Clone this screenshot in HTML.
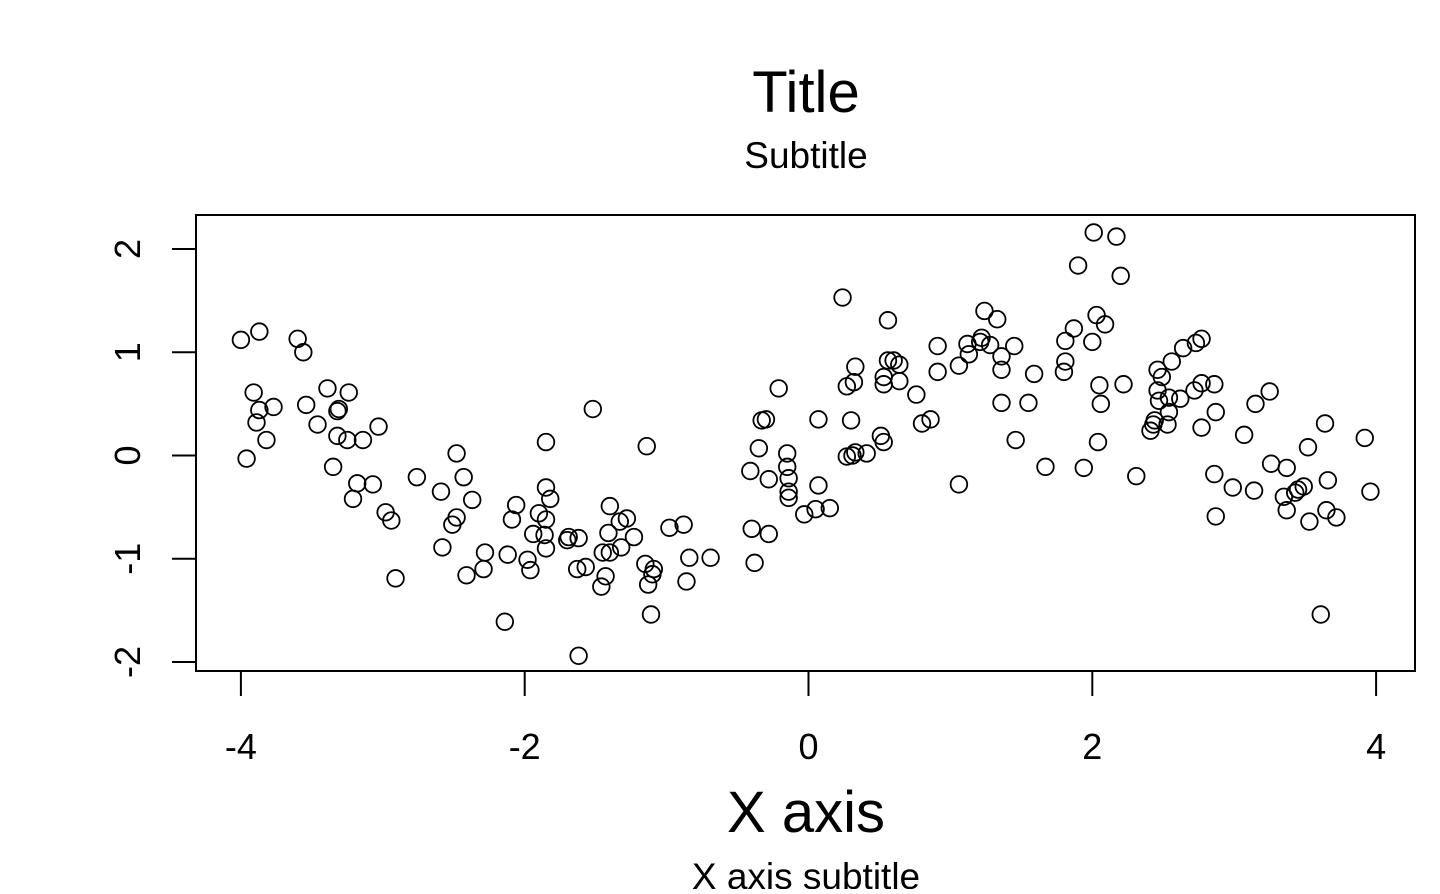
<!DOCTYPE html>
<html><head><meta charset="utf-8"><style>
html,body{margin:0;padding:0;background:#fff;}
svg text{font-family:"Liberation Sans",Arial,sans-serif;fill:#000;}
</style></head><body>
<svg id="chart" width="1440" height="889" xmlns="http://www.w3.org/2000/svg">
<text x="806" y="112" font-size="58" text-anchor="middle">Title</text>
<text x="806" y="168" font-size="37" text-anchor="middle">Subtitle</text>
<rect x="196" y="215" width="1219" height="456" fill="none" stroke="#000" stroke-width="2"/>
<g id="axes"></g>
<g id="points"></g>
<text x="806" y="832" font-size="58" text-anchor="middle">X axis</text>
<text x="806" y="889" font-size="37" text-anchor="middle">X axis subtitle</text>
</svg>
<script>
const xTicks=[-4,-2,0,2,4];
const yTicks=[-2,-1,0,1,2];
const xs=[-4.00,-3.96,-3.87,-3.91,-3.87,-3.89,-3.82,-3.77,-3.60,-3.56,-3.54,-3.46,-3.39,-3.32,-3.31,-3.32,-3.24,-3.25,-3.14,-3.35,-3.18,-3.21,-3.07,-3.03,-2.98,-2.94,-2.91,-2.76,-2.59,-2.58,-2.51,-2.48,-2.48,-2.43,-2.41,-2.37,-2.28,-2.29,-2.14,-2.12,-2.09,-2.06,-1.98,-1.96,-1.94,-1.90,-1.86,-1.85,-1.85,-1.82,-1.85,-1.85,-1.70,-1.69,-1.62,-1.63,-1.57,-1.62,-1.52,-1.45,-1.43,-1.46,-1.40,-1.40,-1.41,-1.33,-1.28,-1.32,-1.23,-1.15,-1.14,-1.13,-1.09,-1.10,-1.11,-0.98,-0.88,-0.86,-0.84,-0.69,-0.41,-0.40,-0.38,-0.35,-0.33,-0.30,-0.28,-0.28,-0.21,-0.15,-0.15,-0.14,-0.14,-0.14,-0.03,0.05,0.07,0.07,0.15,0.24,0.27,0.27,0.30,0.31,0.33,0.32,0.33,0.41,0.51,0.53,0.53,0.53,0.56,0.56,0.60,0.64,0.64,0.76,0.80,0.86,0.91,0.91,1.06,1.06,1.12,1.13,1.21,1.24,1.22,1.28,1.33,1.36,1.36,1.36,1.45,1.46,1.55,1.59,1.67,1.80,1.81,1.81,1.87,1.90,1.94,2.01,2.00,2.03,2.04,2.05,2.06,2.09,2.17,2.20,2.22,2.31,2.41,2.43,2.44,2.46,2.46,2.47,2.49,2.53,2.54,2.54,2.56,2.62,2.64,2.72,2.73,2.77,2.77,2.77,2.86,2.86,2.87,2.87,2.99,3.07,3.14,3.15,3.25,3.26,3.35,3.37,3.37,3.43,3.45,3.49,3.52,3.53,3.61,3.64,3.65,3.66,3.72,3.92,3.96];
const ys=[1.12,-0.03,1.20,0.61,0.44,0.32,0.15,0.47,1.13,1.00,0.49,0.30,0.65,0.43,0.45,0.19,0.61,0.15,0.15,-0.11,-0.27,-0.42,-0.28,0.28,-0.55,-0.63,-1.19,-0.21,-0.35,-0.89,-0.67,-0.60,0.02,-0.21,-1.16,-0.43,-0.94,-1.10,-1.61,-0.96,-0.62,-0.48,-1.01,-1.11,-0.76,-0.56,-0.77,-0.62,-0.31,-0.42,-0.90,0.13,-0.82,-0.79,-0.80,-1.10,-1.08,-1.94,0.45,-0.94,-1.17,-1.27,-0.49,-0.94,-0.75,-0.64,-0.61,-0.89,-0.79,-1.05,0.09,-1.25,-1.10,-1.15,-1.54,-0.70,-0.67,-1.22,-0.99,-0.99,-0.15,-0.71,-1.04,0.07,0.34,0.35,-0.23,-0.76,0.65,0.02,-0.11,-0.35,-0.22,-0.41,-0.57,-0.52,0.35,-0.29,-0.51,1.53,0.67,-0.01,0.34,0.00,0.03,0.71,0.86,0.02,0.19,0.13,0.76,0.69,1.31,0.92,0.92,0.88,0.72,0.59,0.31,0.35,1.06,0.81,-0.28,0.87,1.08,0.98,1.10,1.40,1.14,1.07,1.32,0.96,0.83,0.51,1.06,0.15,0.51,0.79,-0.11,0.81,1.11,0.91,1.23,1.84,-0.12,2.16,1.10,1.36,0.13,0.68,0.50,1.27,2.12,1.74,0.69,-0.20,0.24,0.30,0.34,0.83,0.63,0.53,0.76,0.30,0.42,0.56,0.91,0.55,1.04,0.63,1.09,1.13,0.70,0.27,0.69,-0.18,0.42,-0.59,-0.31,0.20,-0.34,0.50,0.62,-0.08,-0.40,-0.53,-0.12,-0.36,-0.33,-0.30,0.08,-0.64,-1.54,0.31,-0.53,-0.24,-0.60,0.17,-0.35];
const NS='http://www.w3.org/2000/svg';
const sx=v=>808.5+v*141.9;
const sy=v=>455.5-v*103.25;
function mk(tag,attrs,parent){const e=document.createElementNS(NS,tag);for(const k in attrs)e.setAttribute(k,attrs[k]);parent.appendChild(e);return e;}
const ax=document.getElementById('axes');
xTicks.forEach(t=>{
  const l=mk('line',{x1:sx(t),x2:sx(t),y1:671,y2:696,stroke:'#000','stroke-width':2},ax);
  
  
  const tx=mk('text',{x:sx(t),y:759,'font-size':36,'text-anchor':'middle'},ax);
  tx.textContent=String(t);
  
  
});
yTicks.forEach(t=>{
  const l=mk('line',{x1:172,x2:196,y1:sy(t),y2:sy(t),stroke:'#000','stroke-width':2},ax);
  
  
  const tx=mk('text',{x:0,y:0,'font-size':36,'text-anchor':'middle',transform:`translate(140,${sy(t)}) rotate(-90)`},ax);
  tx.textContent=String(t);
  
  
});
const pg=document.getElementById('points');
xs.forEach((x,i)=>{
  const c=mk('circle',{cx:sx(x),cy:sy(ys[i]),r:8.3,fill:'none',stroke:'#000','stroke-width':1.8},pg);
  
  
});
</script>
</body></html>
